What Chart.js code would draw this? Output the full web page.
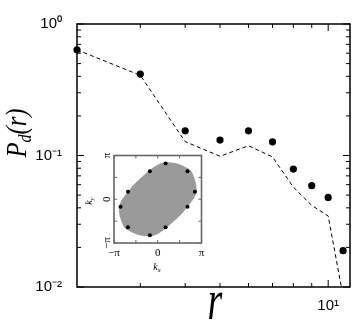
<!DOCTYPE html>
<html>
<head>
<meta charset="utf-8">
<script src="https://cdn.jsdelivr.net/npm/chart.js@4.4.1/dist/chart.umd.min.js"></script>
<style>
html, body { margin: 0; padding: 0; background: #fff; }
#wrap { position: relative; width: 354px; height: 327px; overflow: hidden; }
#wrap canvas { position: absolute; left: 0; top: 0; }
.lbl { position: absolute; font-family: "Liberation Serif", serif; font-style: italic; color: #000; white-space: nowrap; line-height: 1; }
.lbl sub { font-size: 65%; vertical-align: baseline; position: relative; top: 0.28em; }
#yTitle { left: 16px; top: 133px; font-size: 29px; transform: translate(-50%, -50%) rotate(-90deg) scaleX(0.85); }
#xTitle { left: 215px; top: 299px; font-size: 38px; transform: translate(-50%, -50%) scaleY(1.5); }
#kxTitle { left: 157px; top: 267px; font-size: 10px; transform: translate(-50%, -50%); }
#kyTitle { left: 89px; top: 201px; font-size: 10px; transform: translate(-50%, -50%) rotate(-90deg); }
</style>
</head>
<body>
<div id="wrap">
  <canvas id="mainChart" width="354" height="327"></canvas>
  <canvas id="insetChart" width="354" height="327"></canvas>
  <div class="lbl" id="yTitle">P<sub>d</sub>(r)</div>
  <div class="lbl" id="xTitle">r</div>
  <div class="lbl" id="kxTitle">k<sub>x</sub></div>
  <div class="lbl" id="kyTitle">k<sub>y</sub></div>
</div>
<script>
// main plot: distance r and P_d(r)
var R_VALUES = [2, 3, 4, 5, 6, 7, 8, 9, 10, 11];
var PD_DOTS = [0.636, 0.416, 0.154, 0.131, 0.154, 0.127, 0.0788, 0.059, 0.048, 0.0189];
var PD_DASHED = [0.636, 0.407, 0.1275, 0.0987, 0.1186, 0.0975, 0.0574, 0.0417, 0.0347, 0.0085];

var X_MAJOR_TICKS = [10];
var X_MINOR_TICKS = [3, 4, 5, 6, 7, 8, 9];
var Y_MAJOR_TICKS = [0.01, 0.1, 1];
var Y_MINOR_TICKS = [0.02, 0.03, 0.04, 0.05, 0.06, 0.07, 0.08, 0.09, 0.2, 0.3, 0.4, 0.5, 0.6, 0.7, 0.8, 0.9];
var X_TICK_LABELS = { 10: '10\u00b9' };
var Y_TICK_LABELS = { 0.01: '10\u207b\u00b2', 0.1: '10\u207b\u00b9', 1: '10\u2070' };

// inset: k in units of pi
var INSET_TICKS = [-1, -0.5, 0, 0.5, 1];
var INSET_TICK_LABELS = { '-1': '\u2212\u03c0', '0': '0', '1': '\u03c0' };
var SHAPE_TOP_KX = [-0.88, -0.84, -0.78, -0.69, -0.54, -0.35, -0.15, 0, 0.18, 0.42, 0.64, 0.77, 0.83, 0.87, 0.88];
var SHAPE_TOP_KY = [-0.2, -0.07, 0.03, 0.15, 0.33, 0.51, 0.68, 0.78, 0.835, 0.81, 0.72, 0.62, 0.47, 0.32, 0.2];
var SHAPE_BOT_KX = [-0.88, -0.87, -0.83, -0.77, -0.64, -0.42, -0.18, 0, 0.15, 0.35, 0.54, 0.69, 0.78, 0.84, 0.88];
var SHAPE_BOT_KY = [-0.2, -0.32, -0.47, -0.62, -0.72, -0.81, -0.835, -0.78, -0.68, -0.51, -0.33, -0.15, -0.03, 0.07, 0.2];
var DOT_KX = [0.18, -0.18, 0.68, -0.68, 0.85, -0.85, 0.68, -0.68, 0.18, -0.18];
var DOT_KY = [0.82, 0.64, 0.64, 0.17, 0.17, -0.17, -0.17, -0.64, -0.64, -0.82];

function toPoints(xs, ys)
{
  var pts = [];
  for (var i = 0; i < xs.length; i++) {
    pts.push({ x: xs[i], y: ys[i] });
  }
  return pts;
}

// frame with inward ticks on all four sides
function framePlugin(cfg)
{
  return {
    id: 'frame_' + cfg.name,
    beforeDatasetsDraw: function(chart) {
      if (!cfg.background) return;
      var a = chart.chartArea, ctx = chart.ctx;
      ctx.save();
      ctx.fillStyle = cfg.background;
      ctx.fillRect(a.left, a.top, a.right - a.left, a.bottom - a.top);
      ctx.restore();
    },
    afterDatasetsDraw: function(chart) {
      var a = chart.chartArea, ctx = chart.ctx;
      var xs = chart.scales.x, ys = chart.scales.y;
      ctx.save();
      ctx.strokeStyle = cfg.color;
      ctx.lineWidth = cfg.tickWidth;
      ctx.beginPath();
      cfg.xTicks.forEach(function(t) {
        var px = xs.getPixelForValue(t[0]);
        ctx.moveTo(px, a.bottom); ctx.lineTo(px, a.bottom - t[1]);
        ctx.moveTo(px, a.top); ctx.lineTo(px, a.top + t[1]);
      });
      cfg.yTicks.forEach(function(t) {
        var py = ys.getPixelForValue(t[0]);
        ctx.moveTo(a.left, py); ctx.lineTo(a.left + t[1], py);
        ctx.moveTo(a.right, py); ctx.lineTo(a.right - t[1], py);
      });
      ctx.stroke();
      ctx.lineWidth = cfg.borderWidth;
      ctx.strokeRect(a.left, a.top, a.right - a.left, a.bottom - a.top);
      ctx.restore();
    }
  };
}

function tickList(minor, major, minorLen, majorLen)
{
  return minor.map(function(v) { return [v, minorLen]; })
    .concat(major.map(function(v) { return [v, majorLen]; }));
}

function drawMain()
{
  var ctx = document.getElementById('mainChart');
  var data = {
    datasets: [
      {
        label: 'P_d dots',
        data: toPoints(R_VALUES, PD_DOTS),
        showLine: false,
        pointRadius: 3.6,
        pointBackgroundColor: '#000',
        pointBorderWidth: 0,
        clip: false
      },
      {
        label: 'P_d dashed',
        data: toPoints(R_VALUES, PD_DASHED),
        showLine: true,
        borderColor: '#000',
        borderWidth: 1,
        borderDash: [4, 3],
        pointRadius: 0,
        fill: false
      }
    ]
  };
  var options = {
    responsive: false,
    animation: false,
    events: [],
    layout: { padding: { top: 12, right: 1, left: 0, bottom: 0 } },
    plugins: { legend: { display: false }, tooltip: { enabled: false } },
    scales: {
      x: {
        type: 'logarithmic',
        min: 2,
        max: 11.5,
        afterBuildTicks: function(s) {
          s.ticks = X_MINOR_TICKS.concat(X_MAJOR_TICKS).map(function(v) { return { value: v }; });
        },
        afterFit: function(s) { s.height = 40; },
        grid: { display: false, drawTicks: false },
        border: { display: false },
        ticks: {
          autoSkip: false, maxRotation: 0, padding: 10, color: '#000',
          font: { family: 'Liberation Sans', size: 15 },
          callback: function(v) { return X_TICK_LABELS[v] || ''; }
        }
      },
      y: {
        type: 'logarithmic',
        min: 0.01,
        max: 1,
        afterBuildTicks: function(s) {
          s.ticks = Y_MINOR_TICKS.concat(Y_MAJOR_TICKS).map(function(v) { return { value: v }; });
        },
        afterFit: function(s) { s.width = 77; },
        grid: { display: false, drawTicks: false },
        border: { display: false },
        ticks: {
          autoSkip: false, padding: 15, color: '#000',
          font: { family: 'Liberation Sans', size: 15 },
          callback: function(v) { return Y_TICK_LABELS[v] || ''; }
        }
      }
    }
  };
  new Chart(ctx, {
    type: 'scatter',
    data: data,
    options: options,
    plugins: [framePlugin({
      name: 'main', color: '#000', tickWidth: 1, borderWidth: 1.5,
      xTicks: tickList(X_MINOR_TICKS, X_MAJOR_TICKS, 4, 7),
      yTicks: tickList(Y_MINOR_TICKS, Y_MAJOR_TICKS, 4, 7)
    })]
  });
}

function drawInset()
{
  var ctx = document.getElementById('insetChart');
  var data = {
    datasets: [
      {
        label: 'dots',
        data: toPoints(DOT_KX, DOT_KY),
        pointRadius: 2,
        pointBackgroundColor: '#000',
        pointBorderWidth: 0
      },
      {
        label: 'upper edge',
        data: toPoints(SHAPE_TOP_KX, SHAPE_TOP_KY),
        showLine: true,
        cubicInterpolationMode: 'monotone',
        borderColor: '#9a9a9a',
        borderWidth: 1,
        backgroundColor: '#9a9a9a',
        pointRadius: 0,
        fill: '+1'
      },
      {
        label: 'lower edge',
        data: toPoints(SHAPE_BOT_KX, SHAPE_BOT_KY),
        showLine: true,
        cubicInterpolationMode: 'monotone',
        borderColor: '#9a9a9a',
        borderWidth: 1,
        pointRadius: 0,
        fill: false
      }
    ]
  };
  var options = {
    responsive: false,
    animation: false,
    events: [],
    layout: { padding: { top: 155.5, right: 152.5, left: 0, bottom: 0 } },
    plugins: { legend: { display: false }, tooltip: { enabled: false } },
    scales: {
      x: {
        type: 'linear',
        min: -1,
        max: 1,
        afterBuildTicks: function(s) {
          s.ticks = INSET_TICKS.map(function(v) { return { value: v }; });
        },
        afterFit: function(s) { s.height = 84; },
        grid: { display: false, drawTicks: false },
        border: { display: false },
        ticks: {
          autoSkip: false, maxRotation: 0, padding: 4, color: '#000',
          font: { family: 'Liberation Serif', size: 11 },
          callback: function(v) { return INSET_TICK_LABELS[v] || ''; }
        }
      },
      y: {
        type: 'linear',
        min: -1,
        max: 1,
        afterBuildTicks: function(s) {
          s.ticks = INSET_TICKS.map(function(v) { return { value: v }; });
        },
        afterFit: function(s) { s.width = 114; },
        grid: { display: false, drawTicks: false },
        border: { display: false },
        ticks: {
          autoSkip: false, minRotation: 90, maxRotation: 90, crossAlign: 'center', padding: 1, color: '#000',
          font: { family: 'Liberation Serif', size: 11 },
          callback: function(v) { return INSET_TICK_LABELS[v] || ''; }
        }
      }
    }
  };
  new Chart(ctx, {
    type: 'scatter',
    data: data,
    options: options,
    plugins: [framePlugin({
      name: 'inset', color: '#666', tickWidth: 1, borderWidth: 1.6, background: '#fff',
      xTicks: tickList(INSET_TICKS, [], 3, 3),
      yTicks: tickList(INSET_TICKS, [], 3, 3)
    })]
  });
}

drawMain();
drawInset();
</script>
</body>
</html>
